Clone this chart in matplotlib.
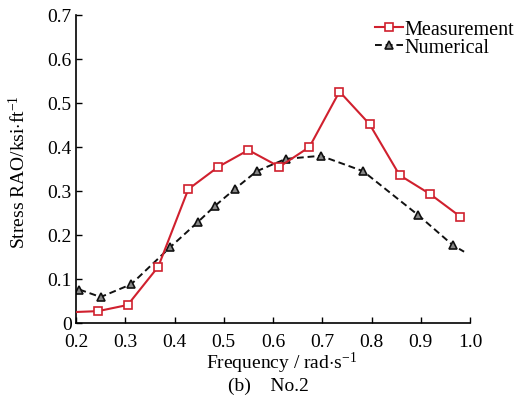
import matplotlib
matplotlib.use("Agg")
import matplotlib.pyplot as plt

meas_x = [0.20, 0.245, 0.305, 0.367, 0.428, 0.489, 0.550, 0.613, 0.674, 0.735, 0.796, 0.857, 0.919, 0.980]
meas_y = [0.025, 0.027, 0.041, 0.128, 0.304, 0.355, 0.393, 0.355, 0.400, 0.526, 0.452, 0.336, 0.293, 0.242]
num_x = [0.207, 0.250, 0.312, 0.391, 0.448, 0.482, 0.523, 0.567, 0.626, 0.697, 0.783, 0.895, 0.965, 0.988]
num_y = [0.076, 0.059, 0.088, 0.172, 0.230, 0.266, 0.305, 0.345, 0.373, 0.380, 0.345, 0.245, 0.177, 0.162]
xticks = [0.2, 0.3, 0.4, 0.5, 0.6, 0.7, 0.8, 0.9, 1.0]
xticklabels = ["0.2", "0.3", "0.4", "0.5", "0.6", "0.7", "0.8", "0.9", "1.0"]
yticks = [0, 0.1, 0.2, 0.3, 0.4, 0.5, 0.6, 0.7]
yticklabels = ["0", "0.1", "0.2", "0.3", "0.4", "0.5", "0.6", "0.7"]

plt.rcParams['font.family'] = ['Liberation Serif', 'DejaVu Serif']
plt.rcParams['mathtext.fontset'] = 'custom'
plt.rcParams['mathtext.rm'] = 'Liberation Serif'
plt.rcParams['mathtext.it'] = 'Liberation Serif:italic'

fig = plt.figure(figsize=(5.2, 4.06), dpi=100)
ax = fig.add_axes([76/520, 1-324/406, 394/520, 308/406])

red = '#d0202e'
ax.plot(meas_x, meas_y, color=red, lw=1.5, marker='s', ms=6, mfc='white', mec=red,
        mew=1.2, markevery=list(range(1, len(meas_x))), label='Measurement', zorder=3)
ax.plot(num_x, num_y, color='#111111', lw=1.4, ls=(0, (3.5, 2)), marker='^', ms=6,
        mfc='#888888', mec='#111111', mew=1.2, markevery=list(range(0, len(num_x)-1)),
        label='Numerical', zorder=2)

ax.set_xlim(0.2, 1.0)
ax.set_ylim(0, 0.7)
ax.set_xticks(xticks)
ax.set_xticklabels(xticklabels)
ax.set_yticks(yticks)
ax.set_yticklabels(yticklabels)
ax.tick_params(direction='in', length=4, width=1, labelsize=14, pad=3)
ax.tick_params(axis='x', pad=7)
for s in ['top', 'right']:
    ax.spines[s].set_visible(False)
for s in ['left', 'bottom']:
    ax.spines[s].set_linewidth(1.2)

ax.set_xlabel(r'Frequency / rad$\cdot$s$^{-1}$', fontsize=14)
ax.set_ylabel(r'Stress RAO/ksi$\cdot$ft$^{-1}$', fontsize=14)
ax.xaxis.set_label_coords((282-76)/394, (324-351)/308)
ax.yaxis.set_label_coords((29-76)/394, (324-172)/308)

leg = ax.legend(loc='upper left', bbox_to_anchor=((375-76)/394, (324-21)/308),
                frameon=False, fontsize=14.5, handlelength=1.4, handletextpad=0.05,
                labelspacing=-0.05, borderpad=0, borderaxespad=0)

fig.text(268/520, 1-386/406, '(b)    No.2', ha='center', va='center', fontsize=14)

fig.savefig('out.png', dpi=100)
